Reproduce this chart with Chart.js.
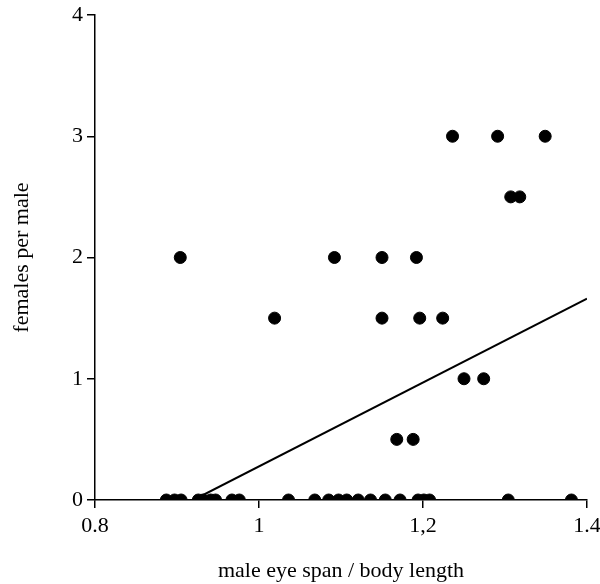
<!DOCTYPE html>
<html>
<head>
<meta charset="utf-8">
<script src="https://cdn.jsdelivr.net/npm/chart.js@4.4.1/dist/chart.umd.min.js"></script>
<style>
  html, body { margin: 0; padding: 0; background: #fff; }
  #wrap { width: 600px; height: 584px; }
</style>
</head>
<body>
<div id="wrap"><canvas id="eye-span-chart" width="600" height="584"></canvas></div>
<script>
// male eye span / body length vs females per male
const eyeSpan = [
    1.236, 1.291, 1.349,
    1.307, 1.318,
    0.904, 1.092, 1.150, 1.192,
    1.019, 1.150, 1.196, 1.224,
    1.250, 1.274,
    1.168, 1.188,
    0.887, 0.897, 0.905, 0.926, 0.932, 0.941, 0.947, 0.967, 0.976,
    1.036, 1.068, 1.085, 1.097, 1.107, 1.121, 1.136, 1.154, 1.172,
    1.194, 1.201, 1.208, 1.304, 1.381
];
const femalesPerMale = [
    3, 3, 3,
    2.5, 2.5,
    2, 2, 2, 2,
    1.5, 1.5, 1.5, 1.5,
    1, 1,
    0.5, 0.5,
    0, 0, 0, 0, 0, 0, 0, 0, 0,
    0, 0, 0, 0, 0, 0, 0, 0, 0,
    0, 0, 0, 0, 0
];

// regression line end points
const fitX = [0.92, 1.4];
const fitY = [0, 1.66];

const xTickValues = [0.8, 1.0, 1.2, 1.4];
const xTickLabels = ['0.8', '1', '1,2', '1.4'];

const points = eyeSpan.map((x, i) => ({ x: x, y: femalesPerMale[i] }));
const fitLine = fitX.map((x, i) => ({ x: x, y: fitY[i] }));

const serif = "'Liberation Serif', 'DejaVu Serif', serif";

const ctx = document.getElementById('eye-span-chart').getContext('2d');
new Chart(ctx, {
    type: 'scatter',
    data: {
        datasets: [{
            label: 'males',
            data: points,
            backgroundColor: '#000',
            borderColor: '#000',
            pointRadius: 6,
            pointHoverRadius: 6
        }, {
            label: 'fit',
            type: 'line',
            data: fitLine,
            borderColor: '#000',
            borderWidth: 2,
            pointRadius: 0,
            fill: false
        }]
    },
    options: {
        responsive: false,
        animation: false,
        layout: { padding: { top: 15, right: 13, left: 0, bottom: 0 } },
        plugins: {
            legend: { display: false },
            tooltip: { enabled: false }
        },
        scales: {
            x: {
                type: 'linear',
                min: 0.8,
                max: 1.4,
                afterBuildTicks: axis => {
                    axis.ticks = xTickValues.map(v => ({ value: v }));
                },
                afterFit: axis => {
                    axis.height = 84;
                    axis.paddingLeft = 0;
                    axis.paddingRight = 0;
                },
                ticks: {
                    color: '#000',
                    font: { family: serif, size: 22 },
                    padding: 5,
                    maxRotation: 0,
                    callback: (value) => {
                        const i = xTickValues.findIndex(v => Math.abs(v - value) < 1e-6);
                        return i >= 0 ? xTickLabels[i] : '';
                    }
                },
                grid: {
                    drawOnChartArea: false,
                    color: '#000',
                    tickLength: 8,
                    lineWidth: 1.5
                },
                border: { display: true, color: '#000', width: 1.5 },
                title: {
                    display: true,
                    text: 'male eye span / body length',
                    color: '#000',
                    font: { family: serif, size: 22 },
                    padding: { top: 10, bottom: 0 }
                }
            },
            y: {
                min: 0,
                max: 4,
                afterFit: axis => {
                    axis.width = 95;
                    axis.paddingTop = 0;
                    axis.paddingBottom = 0;
                },
                ticks: {
                    stepSize: 1,
                    color: '#000',
                    font: { family: serif, size: 22 },
                    padding: 4
                },
                grid: {
                    drawOnChartArea: false,
                    color: '#000',
                    tickLength: 8,
                    lineWidth: 1.5
                },
                border: { display: true, color: '#000', width: 1.5 },
                title: {
                    display: true,
                    text: 'females per male',
                    color: '#000',
                    font: { family: serif, size: 22 },
                    padding: { top: 9, bottom: 10 }
                }
            }
        }
    }
});
</script>
</body>
</html>
